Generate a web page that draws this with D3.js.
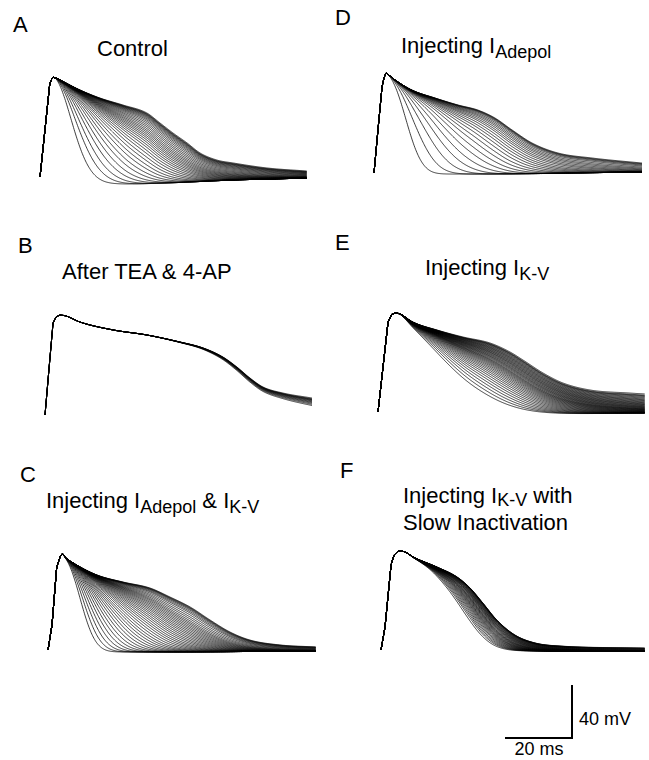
<!DOCTYPE html>
<html><head><meta charset="utf-8">
<script src="https://cdn.jsdelivr.net/npm/d3@7"></script>
<style>
html,body{margin:0;padding:0;background:#fff;}
text{font-family:"Liberation Sans",Arial,Helvetica,sans-serif;fill:#000;}
</style></head>
<body>
<svg id="fig" width="649" height="760"></svg>
<script>
// ---------- DATA (time in ms, membrane potential in mV) ----------
const panelLetters = ["A","B","C","D","E","F"];

// shared upstroke (start -> peak) per panel
const upA = [[0,-65],[1.5,-29],[2.9,5],[3.5,9],[4.0,10.2]];
const upB = [[0,-65],[1.2,-30],[2.4,4.4],[3.3,9.0],[4.5,10.5]];
const upC = [[0,-65],[1.2,-46],[2.6,-2.4],[3.6,5.2],[4.3,7.5]];
const upD = [[0,-65],[1.2,-32],[2.4,0],[3.0,6.9],[3.6,10.5]];
const upE = [[0,-65],[1.5,-31],[3.0,2.9],[4.2,9.0],[5.4,9.7]];
const upF = [[0,-65],[1.2,-47.6],[3.0,-0.8],[3.9,6.7],[5.1,9.7]];

// longest trace (upper envelope) after the peak
const topA = [[4.0,10.2],[4.8,9.7],[6.0,8.2],[11.9,0.7],[17.9,-5.4],[24.8,-10.7],[31.9,-16.7],[35.8,-24.2],[39.7,-31.8],[43.9,-39.3],[47.8,-46.9],[52.8,-52.2],[57.6,-54.4],[67.8,-58.2],[79.7,-60.5]];
const topB = [[4.5,10.5],[6.3,9.7],[10.4,5.2],[20.3,-0.8],[30.4,-4.6],[40.3,-9.9],[47.2,-14.4],[53.1,-21.2],[57.3,-28.8],[61.2,-37.1],[65.1,-43.9],[71.0,-48.4],[79.7,-52.2]];
const topC = [[4.3,7.5],[5.4,4.4],[7.5,0.7],[14.6,-8.4],[22.4,-13.7],[30.4,-18.2],[36.4,-25.0],[42.4,-32.5],[48.4,-42.4],[54.3,-51.4],[60.3,-57.5],[69.3,-61.2],[80.0,-62.7]];
const topD = [[3.6,10.5],[4.8,8.2],[6.3,5.2],[11.3,-2.4],[18.2,-8.4],[25.1,-13.7],[31.0,-17.5],[36.1,-23.5],[41.2,-32.5],[47.2,-42.4],[54.9,-49.9],[65.1,-53.7],[80.0,-57.5]];
const topE = [[5.4,9.7],[6.6,9.0],[10.4,2.9],[17.6,-3.1],[25.4,-8.4],[33.4,-12.9],[39.4,-19.7],[43.3,-25.8],[49.3,-35.6],[55.2,-43.1],[63.3,-48.4],[75.2,-50.7],[79.7,-51.4]];
const topF = [[5.1,9.7],[7.2,9.0],[9.6,5.2],[16.7,-2.4],[22.7,-9.9],[26.6,-18.2],[30.4,-29.5],[34.6,-42.4],[40.0,-53.7],[46.0,-59.7],[53.4,-62.0],[78.8,-63.5]];

// lower envelope (fully repolarized level) after the peak
const floorA = [[4.0,-70.3],[24.8,-70.3],[37.9,-69.5],[57.6,-67.3],[79.7,-65.8]];
const floorB = [[4.5,-66],[79.7,-64]];
const floorC = [[4.3,-66.5],[24.5,-66.5],[80,-65.8]];
const floorD = [[3.6,-65.8],[30.1,-65.8],[80,-64.2]];
const floorE = [[5.4,-66.5],[48.4,-66.5],[79.7,-65.8]];
const floorF = [[5.1,-65.8],[78.8,-65.8]];

// half-repolarization time (ms after peak) of every other trace in each family
const halfA = [6.8,8.6,10.2,11.9,13.5,15.2,16.8,18.5,20.1,21.8,23.4,25.1,26.7,28.4,30.0,31.7,33.4,35.2,37.0,39.0,41.2,43.6,46.5,50.0,54,59,65,72,80,90,102,118,140,170,220];
const halfB = [76,79,82,85,88,92,96,101,107,115];
const halfC = [6.3,7.3,8.3,9.3,10.3,11.3,12.3,13.3,14.3,15.3,16.3,17.3,18.3,19.3,20.4,21.5,22.6,23.7,24.8,26,27.2,28.4,29.7,31,32.4,33.8,35.3,36.9,38.6,40.4,42.4,44.6,47,50,54,59,66,75,85,100,120,150,200];
const halfD = [7.0,9.8,12.6,15.3,18.0,20.8,23.5,26.3,29.0,31.8,34.6,37.5,40.5,44,48,52,57,63,70,80,95,115,145,190];
const halfE = [19,20.5,22,23.5,25,26.5,28,29.5,31,32.5,34,35.5,37,38.5,40,41.5,43,44.5,46,47.5,49,51,53,55,57,59.5,62,65,68,71,75,79,84,90,97,105,115,130,150,180,220,280];
const halfF = [21,22,22.8,23.6,24.4,25.2,26,26.8,27.6,28.4,29.2,30,31,32,33,34,35,36.5,38,39.5,41,43,45,47,50,53,57,62,68,75,85,100,120,150];

// steepness of repolarization per family
const steep = [2.0, 6.0, 2.3, 2.4, 1.8, 3.0];

// titles
const titles = [
  [["Control",""]],
  [["After TEA & 4-AP",""]],
  [["Injecting I",""],["Adepol","sub"],[" & I",""],["K-V","sub"]],
  [["Injecting I",""],["Adepol","sub"]],
  [["Injecting I",""],["K-V","sub"]],
  [["Injecting I",""],["K-V","sub"],[" with",""]]
];
const title2F = "Slow Inactivation";
const scaleBarMs = 20, scaleBarMv = 40;

// ---------- LAYOUT ----------
const PXMS = 3.35, PXMV = 1.325;
const layout = [
  {x0:40,  yb:177, lx:13,  ly:32,  tx:97,  ty:56},
  {x0:45,  yb:415, lx:18,  ly:253, tx:62,  ty:279},
  {x0:48,  yb:650, lx:20,  ly:482, tx:46,  ty:508},
  {x0:374, yb:173, lx:335, ly:25,  tx:401, ty:53},
  {x0:378, yb:412, lx:335, ly:250, tx:425, ty:275},
  {x0:381, yb:650, lx:340, ly:478, tx:403, ty:503}
];
const ups=[upA,upB,upC,upD,upE,upF], tops=[topA,topB,topC,topD,topE,topF],
      floors=[floorA,floorB,floorC,floorD,floorE,floorF], halfs=[halfA,halfB,halfC,halfD,halfE,halfF];

// monotone cubic (Fritsch-Carlson) evaluator through read control points
function monotone(pts){
  const n=pts.length, xs=pts.map(p=>p[0]), ys=pts.map(p=>p[1]);
  if(n===1) return ()=>ys[0];
  const d=[], m=new Array(n);
  for(let i=0;i<n-1;i++) d.push((ys[i+1]-ys[i])/(xs[i+1]-xs[i]));
  m[0]=d[0]; m[n-1]=d[n-2];
  for(let i=1;i<n-1;i++){ m[i]=(d[i-1]*d[i]<=0)?0:(d[i-1]+d[i])/2; }
  for(let i=0;i<n-1;i++){
    if(d[i]===0){m[i]=0;m[i+1]=0;continue;}
    const a=m[i]/d[i], b=m[i+1]/d[i], h=a*a+b*b;
    if(h>9){const t=3/Math.sqrt(h); m[i]=t*a*d[i]; m[i+1]=t*b*d[i];}
  }
  return function(x){
    if(x<=xs[0]) return ys[0];
    if(x>=xs[n-1]) return ys[n-1];
    let i=0; while(x>xs[i+1]) i++;
    const h=xs[i+1]-xs[i], t=(x-xs[i])/h, t2=t*t, t3=t2*t;
    return (2*t3-3*t2+1)*ys[i]+(t3-2*t2+t)*h*m[i]+(-2*t3+3*t2)*ys[i+1]+(t3-t2)*h*m[i+1];
  };
}

const svg=d3.select("#fig");
svg.append("rect").attr("width",649).attr("height",760).attr("fill","#fff");

layout.forEach((L,k)=>{
  const up=ups[k], top=tops[k], fl=floors[k];
  const tp=top[0][0], tEnd=top[top.length-1][0];
  const x=d3.scaleLinear().domain([0,80]).range([L.x0, L.x0+80*PXMS]);
  const y=d3.scaleLinear().domain([-65,10]).range([L.yb, L.yb-75*PXMV]);
  const fTop=monotone(top), fFloor=monotone(fl);
  const line=d3.line().x(d=>x(d[0])).y(d=>y(d[1]));
  const p=steep[k];
  const ts=d3.range(tp, tEnd+0.001, 0.2);
  const g=svg.append("g");
  const families=[Infinity].concat(halfs[k]);
  families.forEach(hv=>{
    const tau = isFinite(hv)? hv/Math.pow(Math.LN2,1/p) : Infinity;
    const pts=up.slice(0,-1).concat(ts.map(t=>{
      const u=t-tp;
      const s= isFinite(tau)? Math.exp(-Math.pow(u/tau,p)) : 1;
      const vt=fTop(t), vf=fFloor(t);
      return [t, vf+(vt-vf)*s];
    }));
    g.append("path").attr("d",line(pts)).attr("fill","none")
      .attr("stroke","#000").attr("stroke-width",0.75).attr("stroke-linejoin","round");
  });
  svg.append("text").attr("x",L.lx).attr("y",L.ly).attr("font-size",22).text(panelLetters[k]);
  const tt=svg.append("text").attr("x",L.tx).attr("y",L.ty).attr("font-size",22);
  let shifted=false;
  const subDy = (k===5)?3:5;
  titles[k].forEach(([s,kind])=>{
    const sp=tt.append("tspan").text(s);
    if(kind==="sub"){ sp.attr("font-size",18).attr("dy", shifted?0:subDy); shifted=true; }
    else { if(shifted){ sp.attr("dy",-subDy); shifted=false; } }
  });
  if(k===5){
    svg.append("text").attr("x",L.tx).attr("y",L.ty+27).attr("font-size",22).text(title2F);
  }
});

// scale bar
const xb=d3.scaleLinear().domain([0,scaleBarMs]).range([505,572]);
const yb=d3.scaleLinear().domain([0,scaleBarMv]).range([738,685]);
svg.append("path").attr("d",d3.line()([[xb(0),yb(0)],[xb(scaleBarMs),yb(0)],[xb(scaleBarMs),yb(scaleBarMv)]]))
  .attr("fill","none").attr("stroke","#000").attr("stroke-width",2);
svg.append("text").attr("x",579).attr("y",725).attr("font-size",18).text(scaleBarMv+" mV");
svg.append("text").attr("x",539).attr("y",755).attr("font-size",18).attr("text-anchor","middle").text(scaleBarMs+" ms");
</script>
</body></html>
